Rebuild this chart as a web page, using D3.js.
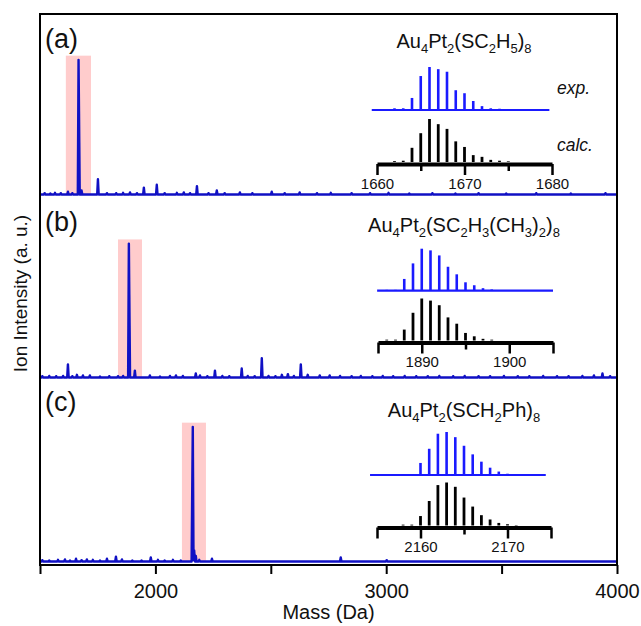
<!DOCTYPE html>
<html>
<head>
<meta charset="utf-8">
<script src="https://cdn.jsdelivr.net/npm/d3@7"></script>
<style>
  body { margin: 0; background: #fff; }
  text { font-family: "Liberation Sans", Arial, sans-serif; fill: #111; }
</style>
</head>
<body>
<svg id="chart" width="641" height="626"></svg>
<script>
// ---------------- data ----------------
const massDomain = [1500, 4000];
const massTicks = [1500, 2000, 2500, 3000, 3500, 4000];
const massTickLabels = [2000, 3000, 4000];
const xTitle = "Mass (Da)";
const yTitle = "Ion Intensity (a. u.)";
const panelLabels = ["(a)", "(b)", "(c)"];
const formulas = ["Au_4Pt_2(SC_2H_5)_8", "Au_4Pt_2(SC_2H_3(CH_3)_2)_8", "Au_4Pt_2(SCH_2Ph)_8"];

// survey spectra: peak mass (Da) and relative intensity
const massA = [1520, 1545, 1565, 1590, 1621, 1640, 1667, 1669, 1680, 1751, 1790, 1830, 1860, 1890, 1920,
  1950, 2006, 2040, 2093, 2123, 2150, 2180, 2230, 2266, 2300, 2366, 2420, 2504, 2560, 2625, 2700, 2760,
  2850, 2930, 3010, 3100, 3200, 3300, 3400, 3520, 3650, 3800, 3950];
const intA = [0.01, 0.008, 0.012, 0.01, 0.02, 0.01, 0.97, 0.6, 0.03, 0.11, 0.01, 0.01, 0.012, 0.015, 0.01,
  0.05, 0.07, 0.01, 0.012, 0.015, 0.01, 0.06, 0.01, 0.03, 0.01, 0.015, 0.01, 0.02, 0.01, 0.015, 0.01, 0.012,
  0.01, 0.01, 0.012, 0.008, 0.01, 0.008, 0.01, 0.008, 0.01, 0.008, 0.01];

const massB = [1510, 1540, 1570, 1600, 1621, 1640, 1660, 1686, 1716, 1760, 1800, 1838, 1860, 1885, 1887,
  1911, 1976, 2020, 2063, 2089, 2119, 2175, 2193, 2225, 2258, 2290, 2320, 2374, 2400, 2430, 2461, 2490,
  2520, 2548, 2574, 2600, 2630, 2660, 2712, 2755, 2800, 2850, 2890, 2940, 2985, 3030, 3080, 3130, 3180,
  3230, 3290, 3340, 3400, 3450, 3510, 3570, 3620, 3680, 3740, 3790, 3850, 3900, 3937, 3970];
const intB = [0.01, 0.012, 0.01, 0.012, 0.095, 0.01, 0.02, 0.015, 0.015, 0.008, 0.01, 0.01, 0.012, 0.97, 0.6,
  0.05, 0.015, 0.008, 0.012, 0.015, 0.012, 0.03, 0.015, 0.01, 0.05, 0.012, 0.01, 0.065, 0.012, 0.01, 0.14, 0.012,
  0.01, 0.02, 0.025, 0.012, 0.095, 0.02, 0.015, 0.015, 0.012, 0.01, 0.012, 0.01, 0.012, 0.01, 0.012, 0.01, 0.01,
  0.012, 0.01, 0.012, 0.01, 0.01, 0.012, 0.01, 0.01, 0.012, 0.01, 0.01, 0.012, 0.015, 0.03, 0.01];

const massC = [1510, 1540, 1578, 1608, 1630, 1656, 1680, 1703, 1729, 1760, 1790, 1829, 1855, 1900, 1940,
  1980, 2011, 2040, 2076, 2110, 2160, 2162, 2168, 2175, 2190, 2245, 2803, 3002];
const intC = [0.01, 0.008, 0.012, 0.015, 0.008, 0.02, 0.01, 0.015, 0.012, 0.008, 0.02, 0.035, 0.015, 0.008, 0.008,
  0.03, 0.012, 0.008, 0.012, 0.008, 0.6, 0.97, 0.08, 0.04, 0.012, 0.02, 0.03, 0.01];

// highlighted mass windows (Da)
const windowA = [1612, 1721];
const windowB = [1838, 1942];
const windowC = [2115, 2219];

// isotope patterns: experimental vs calculated
const isoMassA = [1662, 1663, 1664, 1665, 1666, 1667, 1668, 1669, 1670, 1671, 1672, 1673, 1674, 1675];
const isoExpA  = [0.04, 0.04, 0.28, 0.79, 1.0, 0.95, 0.89, 0.46, 0.39, 0.21, 0.09, 0.04, 0.03, 0.01];
const isoCalcA = [0.02, 0.03, 0.33, 0.67, 1.0, 0.88, 0.77, 0.48, 0.35, 0.16, 0.12, 0.05, 0.03, 0.015];
const isoDomainA = [1660, 1680];
const isoTicksA = [1660, 1665, 1670, 1675, 1680];
const isoLabelsA = [1660, 1670, 1680];

const isoMassB = [1886, 1887, 1888, 1889, 1890, 1891, 1892, 1893, 1894, 1895, 1896, 1897, 1898];
const isoExpB  = [0.02, 0.02, 0.28, 0.65, 1.0, 0.96, 0.84, 0.57, 0.39, 0.20, 0.13, 0.06, 0.03];
const isoCalcB = [0.02, 0.02, 0.26, 0.66, 1.0, 0.95, 0.84, 0.55, 0.40, 0.18, 0.10, 0.04, 0.02];
const isoDomainB = [1885, 1905];
const isoTicksB = [1885, 1890, 1895, 1900, 1905];
const isoLabelsB = [1890, 1900];

const isoMassC = [2158, 2159, 2160, 2161, 2162, 2163, 2164, 2165, 2166, 2167, 2168, 2169, 2170, 2171];
const isoExpC  = [0.02, 0.02, 0.28, 0.61, 0.96, 1.0, 0.88, 0.68, 0.48, 0.31, 0.17, 0.08, 0.03, 0.02];
const isoCalcC = [0.02, 0.02, 0.22, 0.57, 0.94, 1.0, 0.90, 0.65, 0.44, 0.24, 0.14, 0.06, 0.03, 0.01];
const isoDomainC = [2155, 2175];
const isoTicksC = [2155, 2160, 2165, 2170, 2175];
const isoLabelsC = [2160, 2170];

// ---------------- layout ----------------
const plotLeft = 40, plotRight = 617, plotTop = 14, plotBottom = 565;
const panelEdges = [14, 198, 381, 565];
const specColor = "#1010c4";
const expColor = "#1a1aff";
const boxColor = "#ffcccc";

const svg = d3.select("#chart");
const x = d3.scaleLinear().domain(massDomain).range([plotLeft, plotRight]);

const panels = [
  { mass: massA, inten: intA, win: windowA, label: panelLabels[0], formula: formulas[0], labelY: 48, formulaY: 48,
    iso: { mass: isoMassA, exp: isoExpA, calc: isoCalcA, domain: isoDomainA, ticks: isoTicksA, labels: isoLabelsA,
           xr: [377, 552], span: [1659.4, 1679.7], expBase: 110, axisY: 164, h: 43 }, tags: true },
  { mass: massB, inten: intB, win: windowB, label: panelLabels[1], formula: formulas[1], labelY: 231, formulaY: 232,
    iso: { mass: isoMassB, exp: isoExpB, calc: isoCalcB, domain: isoDomainB, ticks: isoTicksB, labels: isoLabelsB,
           xr: [378, 553], span: [1884.9, 1905], expBase: 290.7, axisY: 342.5, h: 42 } },
  { mass: massC, inten: intC, win: windowC, label: panelLabels[2], formula: formulas[2], labelY: 411, formulaY: 417,
    iso: { mass: isoMassC, exp: isoExpC, calc: isoCalcC, domain: isoDomainC, ticks: isoTicksC, labels: isoLabelsC,
           xr: [377, 551], span: [2154.2, 2174.4], expBase: 475, axisY: 527.5, h: 43 } }
];

// stick peaks rendered as narrow triangles; overlapping peaks merge via their envelope
function profile(mass, inten, halfWidth) {
  const pts = new Set([massDomain[0], massDomain[1]]);
  mass.forEach(m => { pts.add(m - halfWidth); pts.add(m); pts.add(m + halfWidth); });
  const xs = Array.from(pts).filter(v => v >= massDomain[0] && v <= massDomain[1]).sort((a, b) => a - b);
  return xs.map(v => {
    let h = 0;
    mass.forEach((m, i) => {
      const d = Math.abs(v - m);
      if (d < halfWidth) h = Math.max(h, inten[i] * (1 - d / halfWidth));
    });
    return [v, h];
  });
}

// formula text with numeric subscripts marked by "_"
function formulaText(sel, str, size, subSize, shift) {
  const parts = [];
  let i = 0;
  while (i < str.length) {
    if (str[i] === "_") { parts.push({ t: str[i + 1], sub: true }); i += 2; }
    else {
      let j = i;
      while (j < str.length && str[j] !== "_") j++;
      parts.push({ t: str.slice(i, j), sub: false }); i = j;
    }
  }
  let cur = 0;
  parts.forEach(p => {
    const target = p.sub ? shift : 0;
    sel.append("tspan")
      .attr("dy", target - cur)
      .attr("font-size", p.sub ? subSize : size)
      .text(p.t);
    cur = target;
  });
}

panels.forEach((p, k) => {
  const y0 = panelEdges[k + 1], y1 = panelEdges[k];
  const y = d3.scaleLinear().domain([-0.025, 1.3]).range([y0, y1]);
  const g = svg.append("g");

  // highlighted window
  g.append("rect")
    .attr("x", x(p.win[0])).attr("width", x(p.win[1]) - x(p.win[0]))
    .attr("y", y(1)).attr("height", y(0) - y(1))
    .attr("fill", boxColor);

  // survey spectrum
  const line = d3.line().x(d => x(d[0])).y(d => y(d[1]));
  g.append("path")
    .attr("d", line(profile(p.mass, p.inten, 3.2)))
    .attr("fill", "none").attr("stroke", specColor)
    .attr("stroke-width", 2.4).attr("stroke-linejoin", "round");

  // panel tag
  g.append("text").attr("x", 45).attr("y", p.labelY)
    .attr("font-size", 27).text(p.label);

  // formula
  const ft = g.append("text").attr("x", 464).attr("y", p.formulaY)
    .attr("text-anchor", "middle");
  formulaText(ft, p.formula, 20, 13, 5);

  // isotope inset
  const q = p.iso;
  const xi = d3.scaleLinear().domain(q.domain).range(q.xr);
  const ye = d3.scaleLinear().domain([0, 1]).range([q.expBase, q.expBase - q.h]);
  const calcBase = q.axisY - 2;
  const yc = d3.scaleLinear().domain([0, 1]).range([calcBase, calcBase - q.h]);

  g.append("line")
    .attr("x1", xi(q.span[0])).attr("x2", xi(q.span[1]))
    .attr("y1", q.expBase).attr("y2", q.expBase)
    .attr("stroke", expColor).attr("stroke-width", 2.2);
  g.selectAll(null).data(q.mass).join("line")
    .attr("x1", d => xi(d)).attr("x2", d => xi(d))
    .attr("y1", q.expBase).attr("y2", (d, i) => ye(q.exp[i]))
    .attr("stroke", expColor).attr("stroke-width", 2.6);

  g.selectAll(null).data(q.mass).join("line")
    .attr("x1", d => xi(d)).attr("x2", d => xi(d))
    .attr("y1", calcBase).attr("y2", (d, i) => yc(q.calc[i]))
    .attr("stroke", "#000").attr("stroke-width", 2.8);

  const ax = g.append("g").attr("transform", `translate(0,${q.axisY})`)
    .call(d3.axisBottom(xi).tickValues(q.labels).tickSize(11).tickSizeOuter(0).tickPadding(3)
      .tickFormat(d3.format("d")));
  ax.select(".domain").attr("stroke-width", 4).attr("stroke", "#000");
  ax.selectAll(".tick line").attr("stroke-width", 2.5).attr("stroke", "#000");
  ax.selectAll(".tick text").attr("font-size", 15).attr("font-family", null).attr("fill", "#111");

  const minor = q.ticks.filter(t => !q.labels.includes(t));
  const axm = g.append("g").attr("transform", `translate(0,${q.axisY})`)
    .call(d3.axisBottom(xi).tickValues(minor).tickSize(7).tickSizeOuter(0).tickFormat(""));
  axm.select(".domain").remove();
  axm.selectAll(".tick line").attr("stroke-width", 2.5).attr("stroke", "#000")
    .attr("y2", d => (d === q.domain[0] || d === q.domain[1]) ? 11 : 7);

  if (p.tags) {
    g.append("text").attr("x", 557).attr("y", 94).attr("font-size", 17.5)
      .attr("font-style", "italic").text("exp.");
    g.append("text").attr("x", 557).attr("y", 151).attr("font-size", 17.5)
      .attr("font-style", "italic").text("calc.");
  }
});

// frame
svg.append("rect").attr("x", plotLeft).attr("y", plotTop)
  .attr("width", plotRight - plotLeft).attr("height", plotBottom - plotTop)
  .attr("fill", "none").attr("stroke", "#000").attr("stroke-width", 2);

// mass axis
const xa = svg.append("g").attr("transform", `translate(0,${plotBottom})`)
  .call(d3.axisBottom(x).tickValues(massTicks).tickSize(9).tickSizeOuter(0).tickPadding(10)
    .tickFormat(d => massTickLabels.includes(d) ? d : ""));
xa.select(".domain").remove();
xa.selectAll(".tick line").attr("stroke", "#000").attr("stroke-width", 2);
xa.selectAll(".tick text").attr("font-size", 20).attr("font-family", null).attr("fill", "#111");

svg.append("text").attr("x", (plotLeft + plotRight) / 2).attr("y", 619)
  .attr("text-anchor", "middle").attr("font-size", 20).text(xTitle);

svg.append("text")
  .attr("transform", `translate(27,${(plotTop + plotBottom) / 2 + 4}) rotate(-90)`)
  .attr("text-anchor", "middle").attr("font-size", 19).text(yTitle);
</script>
</body>
</html>
